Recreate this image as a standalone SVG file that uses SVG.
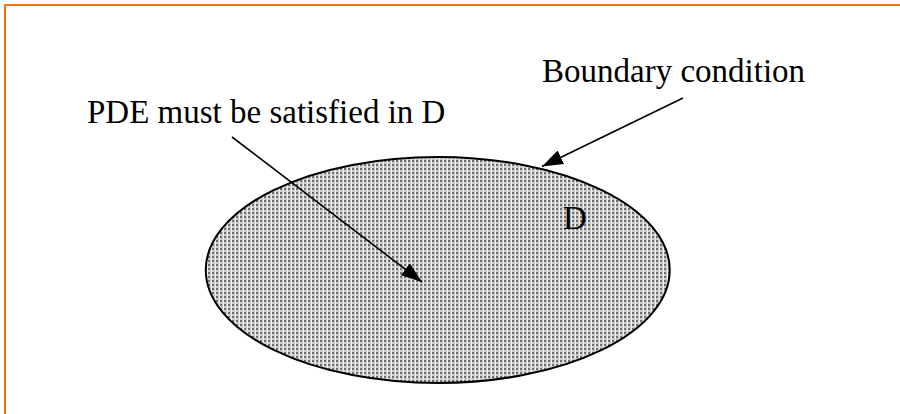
<svg xmlns="http://www.w3.org/2000/svg" width="900" height="414" viewBox="0 0 900 414">
<defs>
<style>
.lbl{font-family:"Liberation Serif","Times New Roman",serif;font-size:33px;fill:#000}
.conn{stroke:#000;stroke-width:1.6;fill:none}
</style>
<pattern id="dots" width="4" height="4" patternUnits="userSpaceOnUse">
<rect width="4" height="4" fill="#cbcbcb"/>
<rect x="0" y="0" width="2" height="2" fill="#6e6e6e"/>
<rect x="3" y="0" width="1" height="4" fill="#efefef"/>
</pattern>
<marker id="ah" viewBox="0 0 21 15" refX="21" refY="7.5" markerWidth="21" markerHeight="15" markerUnits="userSpaceOnUse" orient="auto">
<path d="M0,0 L21,7.5 L0,15 Z" fill="#000"/>
</marker>
</defs>
<rect width="900" height="414" fill="#fff"/>
<rect x="5" y="5" width="1000" height="1000" fill="none" stroke="#ff6c17" stroke-width="2"/>
<g id="domain">
<ellipse cx="437.75" cy="270" rx="232" ry="113" fill="url(#dots)" stroke="#000" stroke-width="2"/>
<text class="lbl" x="563" y="229">D</text>
</g>
<g id="pde-label">
<text class="lbl" x="87" y="123">PDE must be satisfied in D</text>
</g>
<g id="bc-label">
<text class="lbl" x="542" y="82">Boundary condition</text>
</g>
<g id="connectors">
<line class="conn" x1="232" y1="137" x2="422" y2="282" marker-end="url(#ah)"/>
<line class="conn" x1="683" y1="98" x2="542" y2="166.5" marker-end="url(#ah)"/>
</g>
</svg>
